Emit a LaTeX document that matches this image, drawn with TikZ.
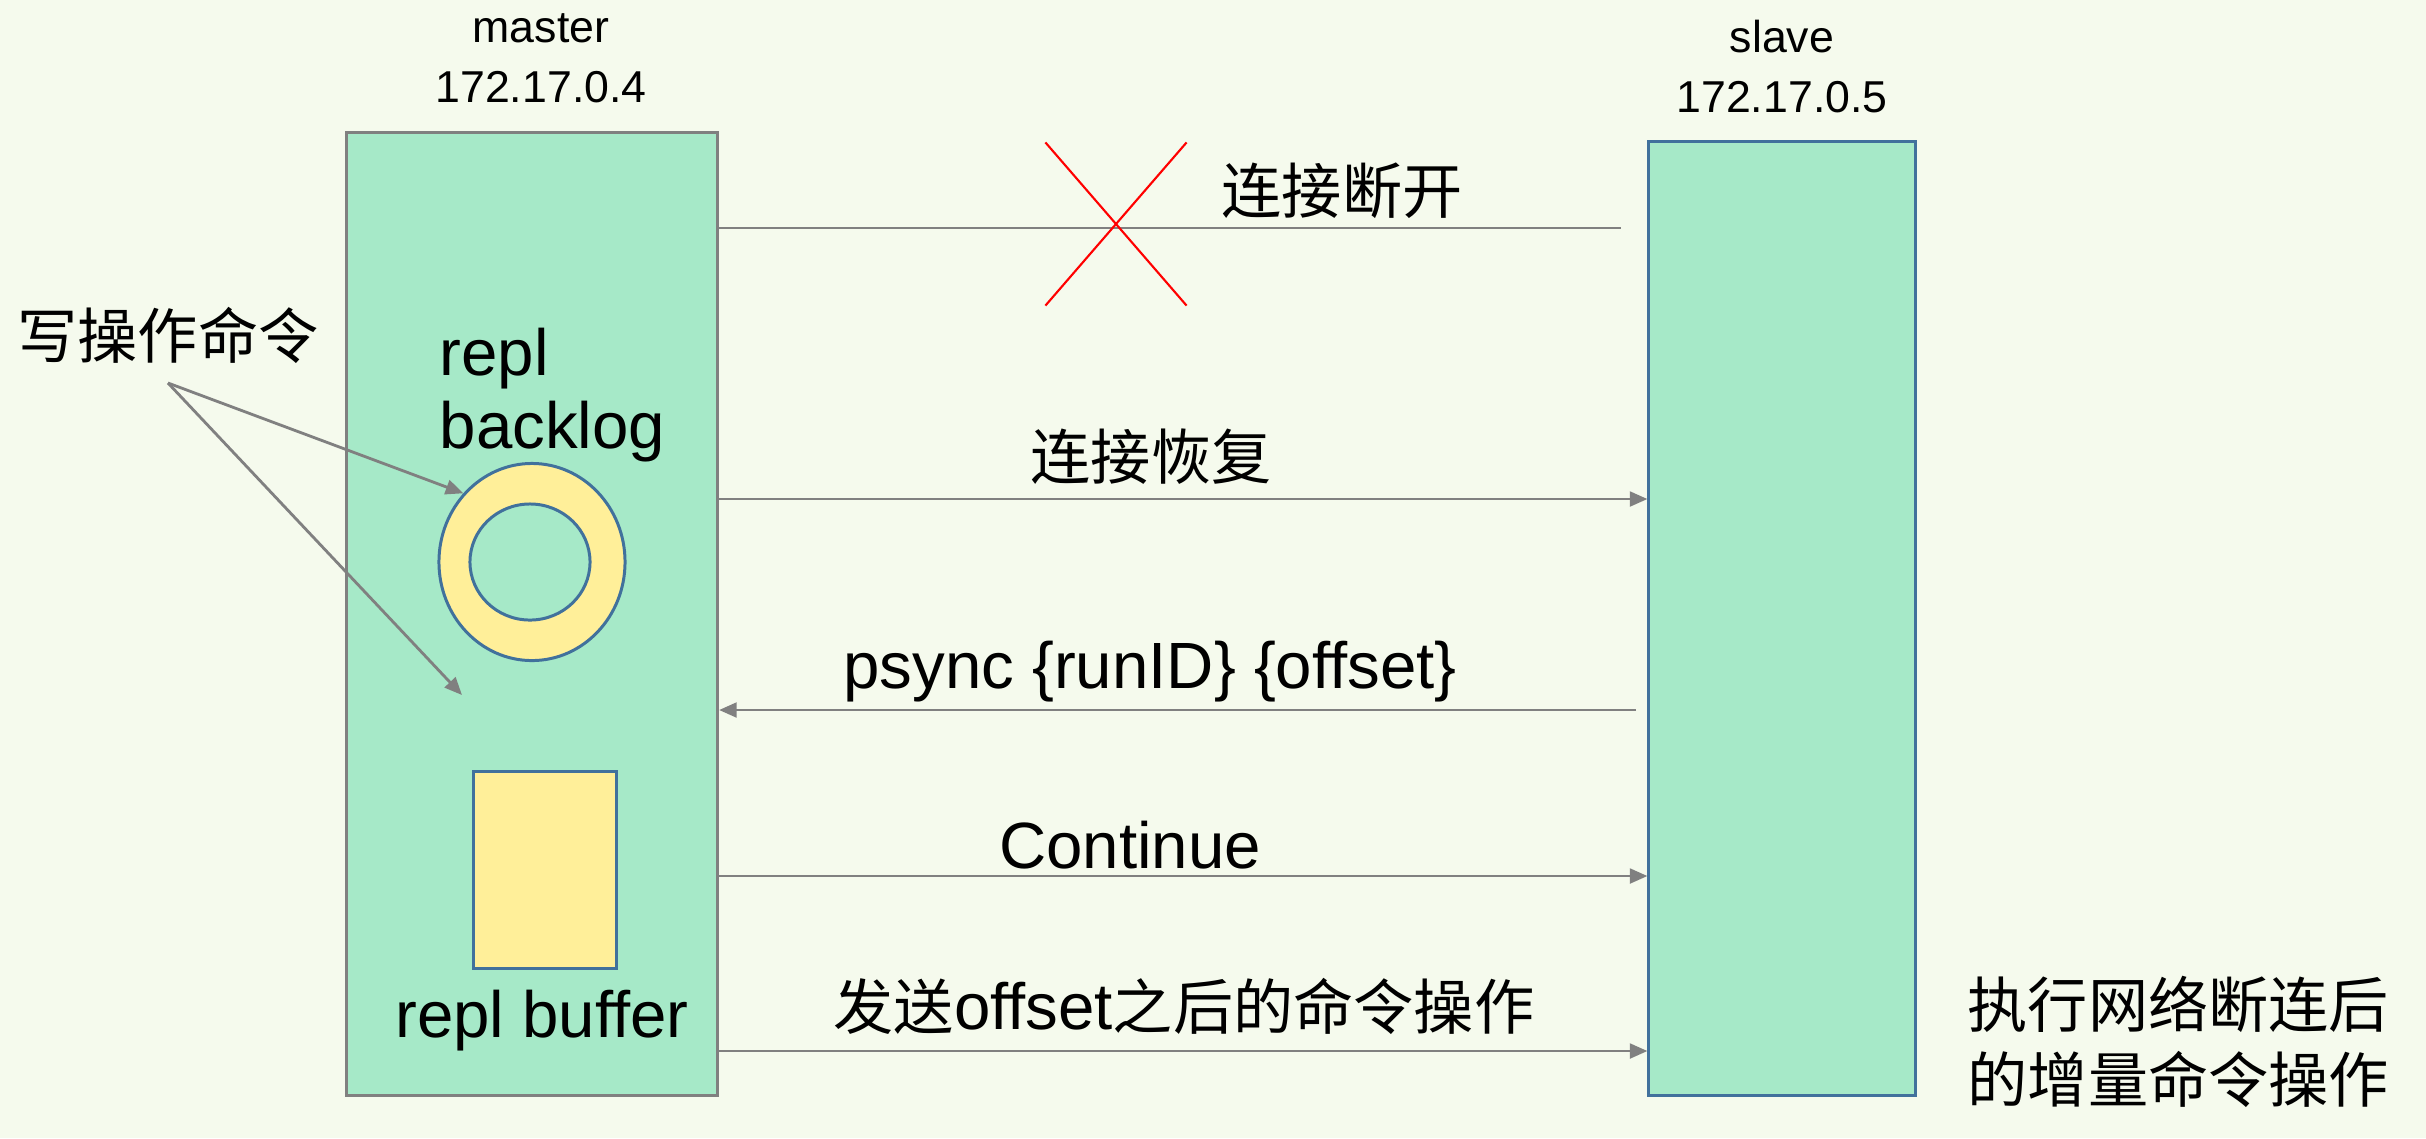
\documentclass[tikz,border=0pt]{standalone}
\usepackage{fontspec}
\setmainfont{Liberation Sans}
\newfontfamily\cjk[Scale=0.92]{Noto Sans CJK SC}
\usetikzlibrary{shapes.geometric,shapes.misc,arrows.meta}

\definecolor{bgcol}{RGB}{245,250,237}
\definecolor{boxgreen}{RGB}{166,233,200}
\definecolor{boxblue}{RGB}{65,113,156}
\definecolor{bufyellow}{RGB}{255,239,153}
\definecolor{linegray}{RGB}{128,128,128}

\begin{document}
\begin{tikzpicture}[x=0.01cm, y=-0.01cm, >={Triangle[length=5pt,width=4.2pt]},
    big/.style={font=\fontsize{18.6}{22}\selectfont, inner sep=0pt},
    small/.style={font=\fontsize{12.7}{15}\selectfont, inner sep=0pt},
    host/.style={draw, fill=boxgreen, line width=0.85pt, inner sep=0pt},
    ring/.style={ellipse, draw=boxblue, line width=0.85pt, inner sep=0pt},
    wire/.style={draw=linegray, line width=0.8pt},
    flow/.style={wire, ->}]
    \useasboundingbox (0,0) rectangle (2426,1138);
    \fill[bgcol] (0,0) rectangle (2426,1138);

    \node[host, draw=linegray, minimum width=3.71cm, minimum height=9.62cm] (master) at (532,614) {};
    \node[host, draw=boxblue, minimum width=2.66cm, minimum height=9.53cm] (slave) at (1782,618.5) {};
    \node[small, anchor=base] (mname) at (541,42) {master};
    \node[small, anchor=base] (mip) at (541,102) {172.17.0.4};
    \node[small, anchor=base] (sname) at (1782,52) {slave};
    \node[small, anchor=base] (sip) at (1782,112) {172.17.0.5};

    \node[big, anchor=base west] (repl) at (439,375) {repl};
    \node[big, anchor=base west] (backlog) at (439,448) {backlog};
    \node[ring, fill=bufyellow, minimum width=1.86cm, minimum height=1.97cm] (ring) at (532,562) {};
    \node[ring, fill=boxgreen, minimum width=1.2cm, minimum height=1.16cm] (hole) at (530,562) {};
    \node[draw=boxblue, fill=bufyellow, line width=0.85pt, inner sep=0pt,
        minimum width=1.42cm, minimum height=1.97cm] (buffer) at (545,870) {};
    \node[big, anchor=base] (buflabel) at (542,1037) {repl buffer};

    \node[big, anchor=base] (cmd) at (168,358) {\cjk 写操作命令};
    \coordinate (cmdfoot) at (168,383);
    \coordinate (bufin) at (462,695);
    \draw[flow] (cmdfoot) -- (ring.135);
    \draw[flow] (cmdfoot) -- (bufin);

    \coordinate (cutend) at (1621,228);
    \draw[wire] (master.east |- cutend) -- (cutend);
    \node[cross out, draw=red, line width=0.6pt, minimum width=1.39cm, minimum height=1.61cm] (cut) at (1116,224) {};
    \node[big, anchor=base west] (lbroken) at (1221,213) {\cjk 连接断开};

    \draw[flow] (master.east |- 0,499) -- (slave.west |- 0,499);
    \node[big, anchor=base] (lresume) at (1151,479) {\cjk 连接恢复};

    \coordinate (psyncend) at (1636,710);
    \draw[flow] (psyncend) -- (master.east |- psyncend);
    \node[big, anchor=base] (lpsync) at (1150,688) {psync \{runID\} \{offset\}};

    \draw[flow] (master.east |- 0,876) -- (slave.west |- 0,876);
    \node[big, anchor=base] (lcont) at (1130,868) {Continue};

    \draw[flow] (master.east |- 0,1051) -- (slave.west |- 0,1051);
    \node[big, anchor=base] (lsend) at (1184,1029) {{\cjk 发送}offset{\cjk 之后的命令操作}};

    \node[big, anchor=base west] (lexec1) at (1967,1027) {\cjk 执行网络断连后};
    \node[big, anchor=base west] (lexec2) at (1967,1102) {\cjk 的增量命令操作};
\end{tikzpicture}
\end{document}
